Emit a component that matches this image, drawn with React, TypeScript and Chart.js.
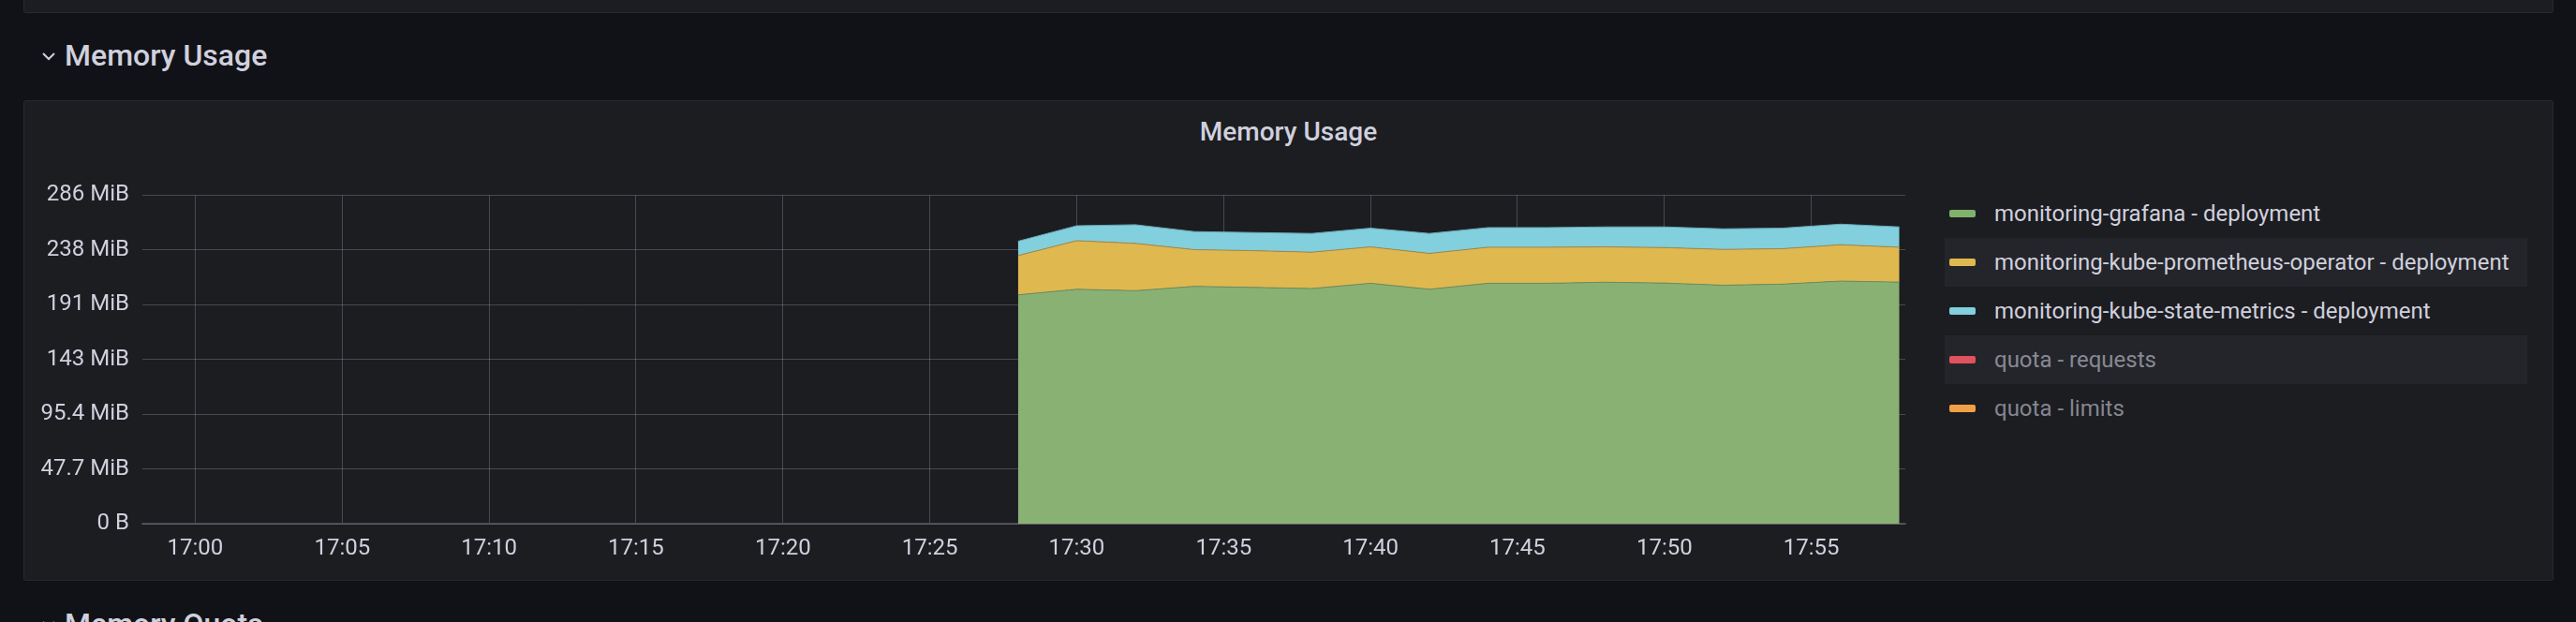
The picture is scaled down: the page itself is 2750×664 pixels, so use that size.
import React, { useEffect, useRef } from "react";
import { Chart, registerables } from "chart.js";

Chart.register(...registerables);

// ---- data (memory in MiB) ----
const sampleTimes = [
  "17:28", "17:30", "17:32", "17:34", "17:36", "17:38", "17:40", "17:42",
  "17:44", "17:46", "17:48", "17:50", "17:52", "17:54", "17:56", "17:58",
];
const grafanaMiB = [199.3, 204.2, 202.9, 206.7, 205.8, 204.8, 209.4, 204.2, 209.4, 209.4, 210.3, 209.6, 207.7, 208.6, 211.3, 210.4];
const promOperatorMiB = [34.2, 42.3, 41.2, 32.0, 32.0, 31.7, 31.7, 31.2, 31.4, 31.4, 30.8, 30.9, 31.2, 30.9, 31.7, 30.4];
const kubeStateMetricsMiB = [12.5, 13.0, 16.3, 15.7, 15.8, 16.3, 16.3, 17.4, 17.1, 17.1, 17.4, 18.0, 17.9, 17.9, 17.9, 17.7];
const quotaRequestsMiB: number[] = [];
const quotaLimitsMiB: number[] = [];

const xTickLabels = ["17:00", "17:05", "17:10", "17:15", "17:20", "17:25", "17:30", "17:35", "17:40", "17:45", "17:50", "17:55"];
const yTickBytes = [0, 50e6, 100e6, 150e6, 200e6, 250e6, 300e6];
const yTickLabels = ["0 B", "47.7 MiB", "95.4 MiB", "143 MiB", "191 MiB", "238 MiB", "286 MiB"];
const rangeStart = "16:58:12";
const rangeEnd = "17:58:12";

const MIB = 1048576;
const toMin = (t: string) => {
  const [h, m, s] = t.split(":").map(Number);
  return h * 60 + m + (s || 0) / 60;
};

const TEXT = "#d0d0de";
const DIM = "rgba(204,204,220,0.62)";
const GRID = "rgba(204,204,220,0.25)";
const PANEL_BG = "#1c1d21";

const series = [
  { label: "monitoring-grafana - deployment", values: grafanaMiB, color: "#89b174", line: "#6e8e5f", swatch: "#7eb26d", dim: false },
  { label: "monitoring-kube-prometheus-operator - deployment", values: promOperatorMiB, color: "#e0b850", line: "#a08a4c", swatch: "#e0b850", dim: false },
  { label: "monitoring-kube-state-metrics - deployment", values: kubeStateMetricsMiB, color: "#82cfdd", line: "#6aa9b6", swatch: "#82cfdd", dim: false },
  { label: "quota - requests", values: quotaRequestsMiB, color: "#e0525e", line: "#e0525e", swatch: "#e0525e", dim: true },
  { label: "quota - limits", values: quotaLimitsMiB, color: "#f0a046", line: "#f0a046", swatch: "#f0a046", dim: true },
];

function MemoryChart() {
  const ref = useRef<HTMLCanvasElement | null>(null);
  useEffect(() => {
    if (!ref.current) return;
    const datasets = series.map((s, i) => ({
      label: s.label,
      data: s.values.map((v, j) => ({ x: toMin(sampleTimes[j]), y: v })),
      backgroundColor: s.color,
      borderColor: s.line,
      borderWidth: 1,
      fill: i === 0 ? "origin" : i < 3 ? "-1" : false,
      pointRadius: 0,
      tension: 0,
    }));
    const chart = new Chart(ref.current, {
      type: "line",
      data: { datasets: datasets as any },
      options: {
        animation: false,
        responsive: false,
        maintainAspectRatio: false,
        layout: { padding: { top: 26.7, right: 6, left: 0, bottom: 0 } },
        plugins: { legend: { display: false }, tooltip: { enabled: false }, title: { display: false } },
        scales: {
          x: {
            type: "linear",
            min: toMin(rangeStart),
            max: toMin(rangeEnd),
            afterBuildTicks: (s: any) => {
              s.ticks = xTickLabels.map((l) => ({ value: toMin(l) }));
            },
            afterFit: (s: any) => {
              s.height = 61;
            },
            ticks: {
              autoSkip: false,
              maxRotation: 0,
              padding: 13,
              color: TEXT,
              font: { family: "Roboto", size: 24 },
              callback: (_v: any, i: number) => xTickLabels[i],
            },
            grid: { color: GRID, drawTicks: false, lineWidth: 1 },
            border: { display: true, color: "rgba(204,204,220,0.22)", width: 2 },
          },
          y: {
            stacked: true,
            min: 0,
            max: yTickBytes[yTickBytes.length - 1] / MIB,
            afterBuildTicks: (s: any) => {
              s.ticks = yTickBytes.map((b) => ({ value: b / MIB }));
            },
            afterFit: (s: any) => {
              s.width = 127;
            },
            ticks: {
              padding: 14,
              color: TEXT,
              font: { family: "Roboto", size: 24 },
              callback: (_v: any, i: number) => yTickLabels[i],
            },
            grid: { color: GRID, drawTicks: false, lineWidth: 1 },
            border: { display: false },
          },
        },
      },
    });
    return () => chart.destroy();
  }, []);
  return (
    <canvas
      ref={ref}
      width={2015}
      height={440}
      style={{ position: "absolute", left: 25, top: 180, width: 2015, height: 440 }}
    />
  );
}

export default function App() {
  return (
    <div
      style={{
        position: "absolute",
        left: 0,
        top: 0,
        width: 2750,
        height: 664,
        overflow: "hidden",
        background: "#111217",
        fontFamily: "Roboto, sans-serif",
      }}
    >
      {/* previous panel bottom edge */}
      <div
        style={{
          position: "absolute",
          left: 25,
          top: -20,
          width: 2699,
          height: 32,
          background: PANEL_BG,
          border: "1px solid rgba(204,204,220,0.07)",
          borderRadius: 3,
        }}
      />
      {/* row header */}
      <svg style={{ position: "absolute", left: 44, top: 54 }} width={16} height={12}>
        <polyline points="2,3 8,9 14,3" fill="none" stroke={TEXT} strokeWidth={2} />
      </svg>
      <div
        style={{
          position: "absolute",
          left: 69,
          top: 43,
          fontSize: 32,
          lineHeight: "32px",
          fontWeight: 500,
          color: TEXT,
          whiteSpace: "nowrap",
        }}
      >
        Memory Usage
      </div>
      {/* panel */}
      <div
        style={{
          position: "absolute",
          left: 25,
          top: 107,
          width: 2699,
          height: 511,
          background: PANEL_BG,
          border: "1px solid rgba(204,204,220,0.07)",
          borderRadius: 3,
        }}
      />
      <div
        style={{
          position: "absolute",
          left: 25,
          width: 2701,
          top: 127,
          textAlign: "center",
          fontSize: 28,
          lineHeight: "28px",
          fontWeight: 500,
          color: TEXT,
        }}
      >
        Memory Usage
      </div>
      <MemoryChart />
      {/* legend */}
      {series.map((s, i) => (
        <div
          key={s.label}
          style={{
            position: "absolute",
            left: 2076,
            top: 202 + i * 52,
            width: 622,
            height: 52,
            background: i % 2 === 1 ? "#24252a" : "transparent",
            display: "flex",
            alignItems: "center",
          }}
        >
          <div
            style={{
              marginLeft: 5,
              width: 28,
              height: 8,
              borderRadius: 2,
              background: s.swatch,
            }}
          />
          <div
            style={{
              marginLeft: 20,
              fontSize: 24,
              lineHeight: "28px",
              color: s.dim ? DIM : TEXT,
              whiteSpace: "nowrap",
            }}
          >
            {s.label}
          </div>
        </div>
      ))}
      {/* next row header, cut off */}
      <svg style={{ position: "absolute", left: 44, top: 661 }} width={16} height={12}>
        <polyline points="2,3 8,9 14,3" fill="none" stroke={TEXT} strokeWidth={2} />
      </svg>
      <div
        style={{
          position: "absolute",
          left: 69,
          top: 650,
          fontSize: 32,
          lineHeight: "32px",
          fontWeight: 500,
          color: TEXT,
          whiteSpace: "nowrap",
        }}
      >
        Memory Quota
      </div>
    </div>
  );
}
